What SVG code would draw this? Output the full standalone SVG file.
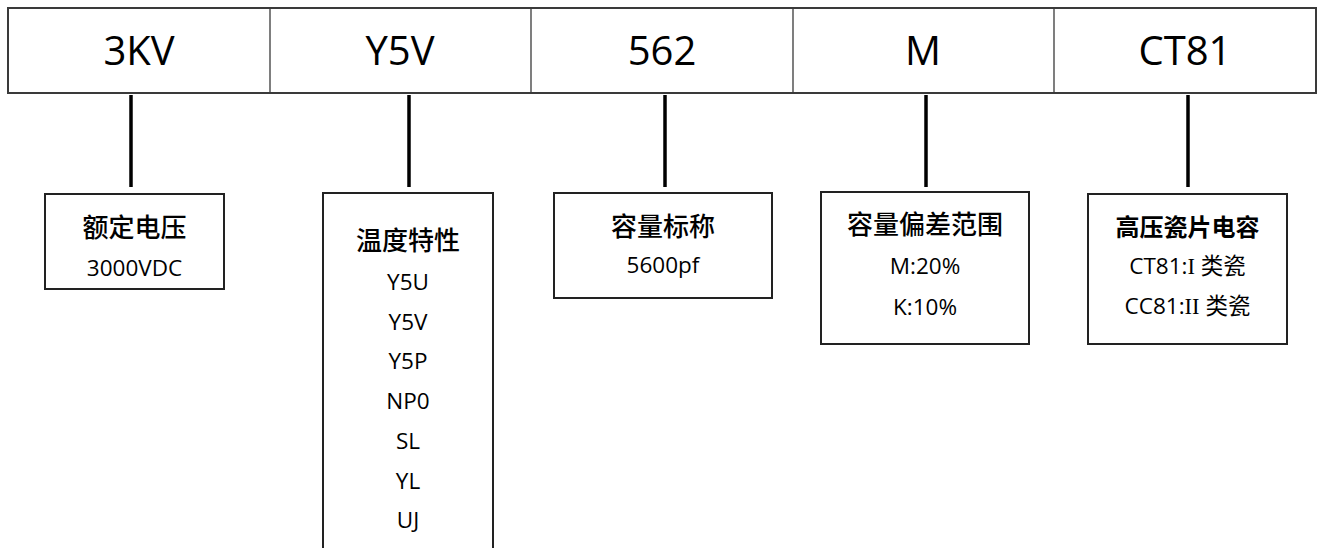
<svg xmlns="http://www.w3.org/2000/svg" width="1319" height="548" viewBox="0 0 1319 548">
<style>
.bar{fill:#fff;stroke:#3a3a3a;stroke-width:2}
.div{stroke:#3a3a3a;stroke-width:1.3}
.code{font-family:"Open Sans","Noto Sans CJK SC",sans-serif;font-size:40px;fill:#000;text-anchor:middle}
.box{fill:#fff;stroke:#222;stroke-width:2}
.hd{font-family:"Noto Sans CJK SC",sans-serif;font-size:26px;font-weight:500;fill:#000;text-anchor:middle}
.hdb{font-family:"Noto Sans CJK SC",sans-serif;font-size:24px;font-weight:700;fill:#000;text-anchor:middle}
.sub{font-family:"Open Sans","Noto Sans CJK SC",sans-serif;font-size:22.5px;fill:#000;text-anchor:middle}
.ser{font-family:"Liberation Serif",serif}
.con{stroke:#000;stroke-width:3.5;fill:none}
</style>
<g id="code-bar">
<rect class="bar" x="8" y="8" width="1308" height="85"/>
<line class="div" x1="270" y1="8" x2="270" y2="93"/>
<line class="div" x1="531" y1="8" x2="531" y2="93"/>
<line class="div" x1="793" y1="8" x2="793" y2="93"/>
<line class="div" x1="1054" y1="8" x2="1054" y2="93"/>
<text class="code" x="139" y="65">3KV</text>
<text class="code" x="400" y="65">Y5V</text>
<text class="code" x="662" y="65">562</text>
<text class="code" x="923" y="65">M</text>
<text class="code" x="1185" y="65">CT81</text>
</g>
<g id="connectors">
<line class="con" x1="131" y1="95" x2="131" y2="187"/>
<line class="con" x1="409" y1="95" x2="409" y2="187"/>
<line class="con" x1="665" y1="95" x2="665" y2="187"/>
<line class="con" x1="926" y1="95" x2="926" y2="187"/>
<line class="con" x1="1188" y1="95" x2="1188" y2="187"/>
</g>
<g id="node-voltage">
<rect class="box" x="45" y="194" width="179" height="95"/>
<text class="hd" x="134.5" y="237">额定电压</text>
<text class="sub" x="134.5" y="276">3000VDC</text>
</g>
<g id="node-temp">
<rect class="box" x="323" y="193" width="170" height="370"/>
<text class="hd" x="408" y="250">温度特性</text>
<text class="sub" x="408" y="290">Y5U</text>
<text class="sub" x="408" y="330">Y5V</text>
<text class="sub" x="408" y="369">Y5P</text>
<text class="sub" x="408" y="409">NP0</text>
<text class="sub" x="408" y="449">SL</text>
<text class="sub" x="408" y="489">YL</text>
<text class="sub" x="408" y="528">UJ</text>
</g>
<g id="node-capacitance">
<rect class="box" x="554" y="193" width="218" height="105"/>
<text class="hd" x="663" y="236">容量标称</text>
<text class="sub" x="663" y="273">5600pf</text>
</g>
<g id="node-tolerance">
<rect class="box" x="821" y="192" width="208" height="152"/>
<text class="hd" x="925" y="234">容量偏差范围</text>
<text class="sub" x="925" y="274">M:20%</text>
<text class="sub" x="925" y="315">K:10%</text>
</g>
<g id="node-type">
<rect class="box" x="1088" y="194" width="199" height="150"/>
<text class="hdb" x="1187.5" y="236">高压瓷片电容</text>
<text class="sub" x="1187.5" y="274">CT81:<tspan class="ser">I</tspan> 类瓷</text>
<text class="sub" x="1187.5" y="314">CC81:<tspan class="ser">II</tspan> 类瓷</text>
</g>
</svg>
